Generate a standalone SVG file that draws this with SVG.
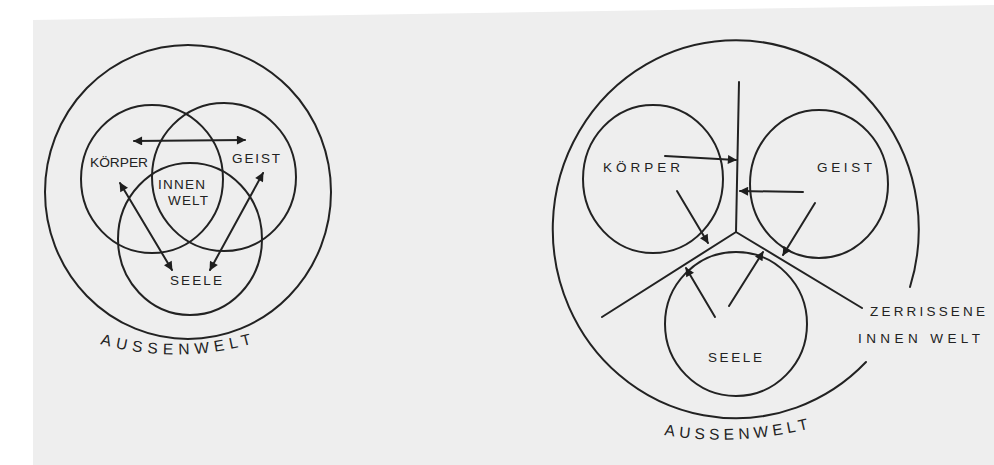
<svg xmlns="http://www.w3.org/2000/svg" width="994" height="465" viewBox="0 0 994 465">
  <style>
    .ln { fill: none; stroke: #222; stroke-width: 2; stroke-linecap: round; }
    .lbl { font-family: "Liberation Sans", Arial, sans-serif; font-size: 13.5px; fill: #222; }
    .big { font-size: 15.5px; }
  </style>
  <defs>
    <marker id="ah" viewBox="0 0 10 10" refX="9" refY="5" markerWidth="10" markerHeight="9" markerUnits="userSpaceOnUse" orient="auto-start-reverse">
      <path d="M0,0 L10,5 L0,10 z" fill="#1e1e1e"/>
    </marker>
    <path id="arcL" d="M100,344 Q178,366 258,342"/>
    <path id="arcR" d="M664,435 Q736,447 812,428"/>
  </defs>

  <rect x="0" y="0" width="994" height="465" fill="#ffffff"/>
  <polygon points="33,20 994,5 994,465 33,465" fill="#eeeeee"/>

  <!-- LEFT DIAGRAM -->
  <g id="left-aussenwelt">
    <ellipse class="ln" cx="188" cy="192" rx="143" ry="147"/>
    <text class="lbl big"><textPath href="#arcL" textLength="154" lengthAdjust="spacing">AUSSENWELT</textPath></text>
  </g>
  <g id="left-koerper">
    <ellipse class="ln" cx="152" cy="179" rx="71" ry="74"/>
    <text class="lbl" x="90" y="167" textLength="58" lengthAdjust="spacingAndGlyphs">KÖRPER</text>
  </g>
  <g id="left-geist">
    <ellipse class="ln" cx="224" cy="177" rx="72" ry="74"/>
    <text class="lbl" x="232" y="163" textLength="48" lengthAdjust="spacing">GEIST</text>
  </g>
  <g id="left-seele">
    <ellipse class="ln" cx="190" cy="239" rx="72" ry="76"/>
    <text class="lbl" x="170" y="285" textLength="52" lengthAdjust="spacing">SEELE</text>
  </g>
  <g id="left-innenwelt">
    <text class="lbl" x="158" y="189" textLength="47" lengthAdjust="spacing">INNEN</text>
    <text class="lbl" x="168" y="205" textLength="40" lengthAdjust="spacing">WELT</text>
  </g>

  <!-- RIGHT DIAGRAM -->
  <g id="right-aussenwelt">
    <path class="ln" d="M910,287 A183,189 0 1 0 866,362"/>
    <text class="lbl big"><textPath href="#arcR" textLength="146" lengthAdjust="spacing">AUSSENWELT</textPath></text>
  </g>
  <g id="right-koerper">
    <ellipse class="ln" cx="653" cy="179" rx="70" ry="74"/>
    <text class="lbl" x="603" y="172" textLength="77" lengthAdjust="spacing">KÖRPER</text>
  </g>
  <g id="right-geist">
    <ellipse class="ln" cx="819" cy="184" rx="69" ry="74"/>
    <text class="lbl" x="817" y="172" textLength="55" lengthAdjust="spacing">GEIST</text>
  </g>
  <g id="right-seele">
    <ellipse class="ln" cx="736" cy="324" rx="71" ry="72"/>
    <text class="lbl" x="708" y="362" textLength="54" lengthAdjust="spacing">SEELE</text>
  </g>
  <g id="right-zerrissene-innenwelt">
    <path class="ln" d="M739,82 L736,232 M736,232 L602,317 M736,232 L862,308"/>
    <text class="lbl" x="870" y="316" textLength="115" lengthAdjust="spacing">ZERRISSENE</text>
    <text class="lbl" x="858" y="343" textLength="122" lengthAdjust="spacing">INNEN WELT</text>
  </g>

  <!-- CONNECTORS -->
  <g id="connectors" class="ln">
    <line x1="134" y1="141" x2="245" y2="140" marker-start="url(#ah)" marker-end="url(#ah)"/>
    <line x1="120" y1="183" x2="172" y2="270" marker-start="url(#ah)" marker-end="url(#ah)"/>
    <line x1="263" y1="173" x2="210" y2="270" marker-start="url(#ah)" marker-end="url(#ah)"/>

    <line x1="665" y1="156" x2="736" y2="160" marker-end="url(#ah)"/>
    <line x1="803" y1="192" x2="740" y2="191" marker-end="url(#ah)"/>
    <line x1="677" y1="191" x2="708" y2="243" marker-end="url(#ah)"/>
    <line x1="815" y1="203" x2="783" y2="255" marker-end="url(#ah)"/>
    <line x1="715" y1="317" x2="686" y2="268" marker-end="url(#ah)"/>
    <line x1="729" y1="306" x2="763" y2="252" marker-end="url(#ah)"/>
  </g>
</svg>
